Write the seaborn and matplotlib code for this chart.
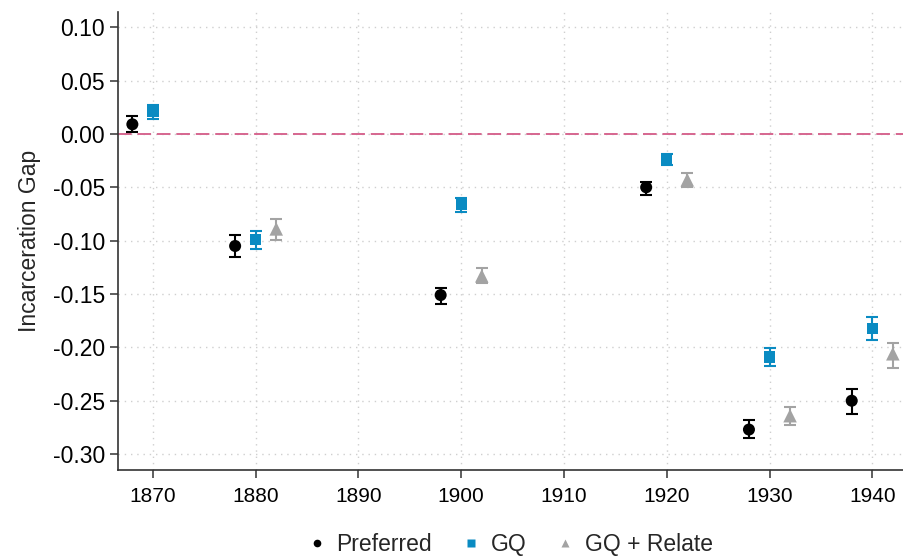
import numpy as np
import pandas as pd
import matplotlib
matplotlib.use("Agg")
import matplotlib.pyplot as plt
import seaborn as sns

years = [1870, 1880, 1900, 1920, 1930, 1940]
series = ["Preferred", "GQ", "GQ + Relate"]

pref_est = [0.009, -0.105, -0.151, -0.050, -0.277, -0.250]
pref_lo = [0.002, -0.115, -0.159, -0.057, -0.285, -0.262]
pref_hi = [0.017, -0.095, -0.144, -0.045, -0.268, -0.239]

gq_est = [0.021, -0.099, -0.066, -0.023, -0.209, -0.182]
gq_lo = [0.014, -0.108, -0.073, -0.029, -0.217, -0.193]
gq_hi = [0.027, -0.091, -0.060, -0.019, -0.201, -0.172]

rel_years = [1880, 1900, 1920, 1930, 1940]
rel_est = [-0.089, -0.133, -0.043, -0.264, -0.206]
rel_lo = [-0.099, -0.140, -0.050, -0.273, -0.219]
rel_hi = [-0.080, -0.126, -0.037, -0.256, -0.196]

yticks = [-0.30, -0.25, -0.20, -0.15, -0.10, -0.05, 0.00, 0.05, 0.10]
xticks = [1870, 1880, 1890, 1900, 1910, 1920, 1930, 1940]

offsets = {"Preferred": -2, "GQ": 0, "GQ + Relate": 2}
colors = {"Preferred": "#000000", "GQ": "#0a8bc2", "GQ + Relate": "#a3a3a3"}
markers = {"Preferred": "o", "GQ": "s", "GQ + Relate": "^"}
sizes = {"Preferred": 75, "GQ": 65, "GQ + Relate": 95}

rows = []
for name, yrs, est, lo, hi in [
    ("Preferred", years, pref_est, pref_lo, pref_hi),
    ("GQ", years, gq_est, gq_lo, gq_hi),
    ("GQ + Relate", rel_years, rel_est, rel_lo, rel_hi),
]:
    for y, e, l, h in zip(yrs, est, lo, hi):
        rows.append({"series": name, "year": y + offsets[name], "est": e, "lo": l, "hi": h})
df = pd.DataFrame(rows)

sns.set_theme(style="white")
plt.rcParams["font.family"] = ["Liberation Sans", "DejaVu Sans"]

fig = plt.figure(figsize=(9.04, 5.57), dpi=100)
ax = fig.add_axes([0.1305, 0.156, 0.8685, 0.822])

ax.axhline(0, color="#d6668f", linestyle=(0, (7, 3)), linewidth=1.4, zorder=1)

for name in series:
    d = df[df["series"] == name]
    ax.errorbar(d["year"], d["est"], yerr=[d["est"] - d["lo"], d["hi"] - d["est"]],
                fmt="none", ecolor=colors[name], elinewidth=1.5, capsize=4.5, capthick=1.5, zorder=2)

sns.scatterplot(data=df, x="year", y="est", hue="series", style="series", size="series",
                hue_order=series, style_order=series, size_order=series,
                palette=colors, markers=markers, sizes=sizes,
                edgecolor="none", ax=ax, zorder=3, legend=True)

ax.set_xlim(1866.6, 1943)
ax.set_ylim(-0.315, 0.114)
ax.set_xticks(xticks)
ax.set_yticks(yticks)
ax.set_yticklabels([f"{v:.2f}".replace("-0.00", "0.00") for v in yticks])
ax.grid(True, color="#cfcfcf", linestyle=(0, (1, 3.5)), linewidth=1.0)
ax.set_axisbelow(True)
for s in ["top", "right"]:
    ax.spines[s].set_visible(False)
for s in ["left", "bottom"]:
    ax.spines[s].set_color("#333333")
    ax.spines[s].set_linewidth(1.2)
ax.tick_params(axis="both", direction="out", length=6, width=1.1, color="#333333",
               labelsize=16.5, left=True, bottom=True, labelcolor="black")
ax.tick_params(axis="x", labelsize=15, pad=6)
ax.set_xlabel("")
ax.set_ylabel("Incarceration Gap", fontsize=16.5, labelpad=8)

handles, labels = ax.get_legend_handles_labels()
ax.legend_.remove()
for h in handles:
    if hasattr(h, "set_markersize"):
        h.set_markersize(5.5)
    elif hasattr(h, "set_sizes"):
        h.set_sizes([30])
fig.legend(handles, labels, loc="lower center", bbox_to_anchor=(0.56, -0.035), ncol=3,
           frameon=False, fontsize=16.5, handletextpad=0.1, columnspacing=0.95, handlelength=1.5)

fig.savefig("out.png", dpi=100)
